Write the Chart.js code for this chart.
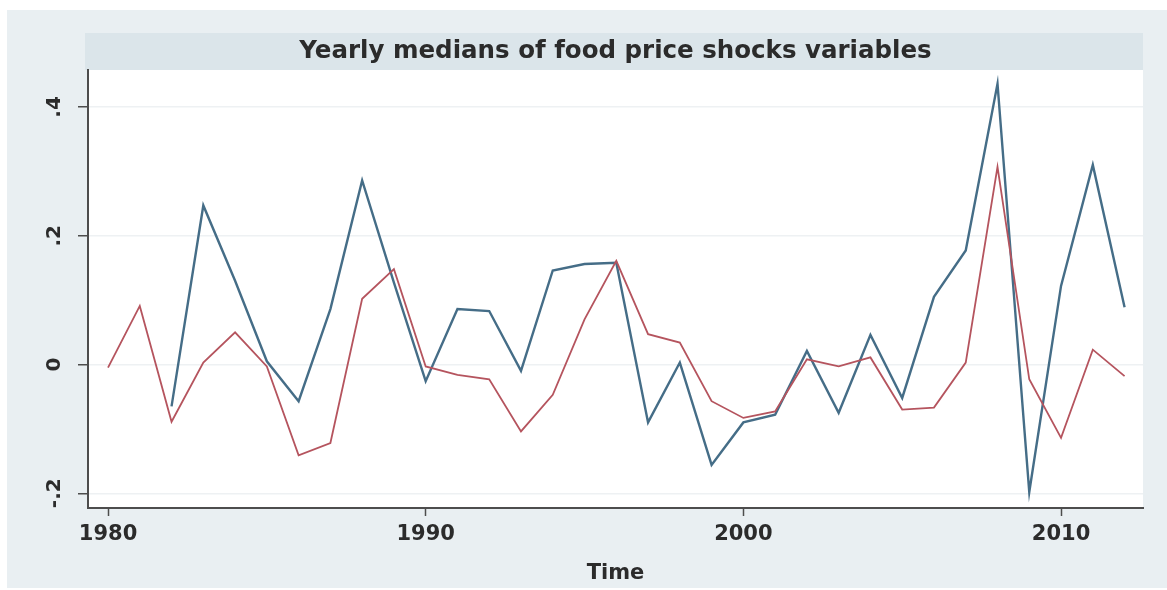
<!DOCTYPE html>
<html>
<head>
<meta charset="utf-8">
<script src="https://cdn.jsdelivr.net/npm/chart.js@4.4.1/dist/chart.umd.min.js"></script>
<style>
  html, body { margin: 0; padding: 0; background: #ffffff; }
  #frame { position: absolute; left: 7px; top: 10px; width: 1160px; height: 578px; background: #e9eff2; }
  canvas { display: block; }
</style>
</head>
<body>
<div id="frame"><canvas id="shockChart"></canvas></div>
<script>
const years = [1980, 1981, 1982, 1983, 1984, 1985, 1986, 1987, 1988, 1989,
               1990, 1991, 1992, 1993, 1994, 1995, 1996, 1997, 1998, 1999,
               2000, 2001, 2002, 2003, 2004, 2005, 2006, 2007, 2008, 2009,
               2010, 2011, 2012];
// blue series (starts 1982)
const shockBlue = [null, null, -0.065, 0.247, 0.13, 0.005, -0.057, 0.086, 0.286, 0.127,
                   -0.026, 0.086, 0.083, -0.01, 0.146, 0.156, 0.158, -0.09, 0.003, -0.156,
                   -0.09, -0.078, 0.021, -0.075, 0.046, -0.052, 0.105, 0.177, 0.436, -0.198,
                   0.122, 0.31, 0.089];
// red series
const shockRed = [-0.005, 0.091, -0.089, 0.003, 0.05, -0.003, -0.141, -0.122, 0.102, 0.148,
                  -0.003, -0.016, -0.023, -0.104, -0.047, 0.07, 0.161, 0.047, 0.034, -0.057,
                  -0.083, -0.073, 0.008, -0.003, 0.011, -0.07, -0.067, 0.003, 0.307, -0.023,
                  -0.114, 0.023, -0.018];
const xTicks = [1980, 1990, 2000, 2010];
const yTicks = [-0.2, 0, 0.2, 0.4];

const FONT = "'DejaVu Sans', 'Liberation Sans', sans-serif";
const INK = '#2b2b2b';
const AXIS = '#4d4d4d';

// Stata style number format: .4, -.2
const stataNum = (v) => {
    if (Math.abs(v) < 1e-9) return '0';
    const s = String(Math.abs(+v.toFixed(2))).replace(/^0/, '');
    return (v < 0 ? '-' : '') + s;
};

const titleBand = {
    id: 'titleBand',
    beforeDraw(chart) {
        const { ctx, chartArea, titleBlock } = chart;
        ctx.save();
        ctx.fillStyle = '#dbe5ea';
        ctx.fillRect(chartArea.left - 3, titleBlock.top, chartArea.right - chartArea.left + 3, chartArea.top - titleBlock.top);
        ctx.fillStyle = '#ffffff';
        ctx.fillRect(chartArea.left, chartArea.top, chartArea.width, chartArea.height);
        ctx.restore();
    }
};

const toPoints = (vals) => years.map((yr, i) => ({ x: yr, y: vals[i] }));

new Chart(document.getElementById('shockChart'), {
    type: 'line',
    data: {
        datasets: [
            {
                label: 'red',
                data: toPoints(shockRed),
                borderColor: '#b5545e',
                borderWidth: 1.8,
                pointRadius: 0,
                tension: 0,
                fill: false
            },
            {
                label: 'blue',
                data: toPoints(shockBlue),
                borderColor: '#456d87',
                borderWidth: 2.4,
                pointRadius: 0,
                tension: 0,
                fill: false,
                spanGaps: false
            }
        ]
    },
    options: {
        responsive: true,
        maintainAspectRatio: false,
        animation: false,
        layout: { padding: { top: 23, right: 24, left: 0, bottom: 0 } },
        plugins: {
            legend: { display: false },
            tooltip: { enabled: false },
            title: {
                display: true,
                fullSize: false,
                text: 'Yearly medians of food price shocks variables',
                color: INK,
                font: { family: FONT, size: 24.5, weight: 'bold', lineHeight: 1.2 },
                padding: { top: 3.8, bottom: 3.8 }
            }
        },
        scales: {
            x: {
                type: 'linear',
                min: 1979.37,
                max: 2012.58,
                afterBuildTicks: (scale) => { scale.ticks = xTicks.map(v => ({ value: v })); },
                afterFit: (scale) => { scale.height = 80; },
                ticks: {
                    color: INK,
                    font: { family: FONT, size: 21, weight: 'bold' },
                    padding: 6,
                    maxRotation: 0,
                    callback: (v) => String(v)
                },
                grid: {
                    drawOnChartArea: false,
                    drawTicks: true,
                    tickLength: 8,
                    tickColor: AXIS,
                    tickWidth: 1.5
                },
                border: { color: AXIS, width: 2 },
                title: {
                    display: true,
                    text: 'Time',
                    color: INK,
                    font: { family: FONT, size: 21, weight: 'bold', lineHeight: 1.2 },
                    padding: { top: 0, bottom: 2 }
                }
            },
            y: {
                min: -0.2229,
                max: 0.4574,
                afterBuildTicks: (scale) => { scale.ticks = yTicks.map(v => ({ value: v })); },
                afterFit: (scale) => { scale.width = 81; },
                ticks: {
                    color: INK,
                    font: { family: FONT, size: 20, weight: 'bold' },
                    padding: 8,
                    minRotation: 90,
                    maxRotation: 90,
                    crossAlign: 'center',
                    callback: (v) => stataNum(v)
                },
                grid: {
                    color: '#eef1f3',
                    lineWidth: 1.5,
                    drawTicks: true,
                    tickLength: 10,
                    tickColor: AXIS,
                    tickWidth: 1.5
                },
                border: { color: AXIS, width: 2 }
            }
        }
    },
    plugins: [titleBand]
});
</script>
</body>
</html>
